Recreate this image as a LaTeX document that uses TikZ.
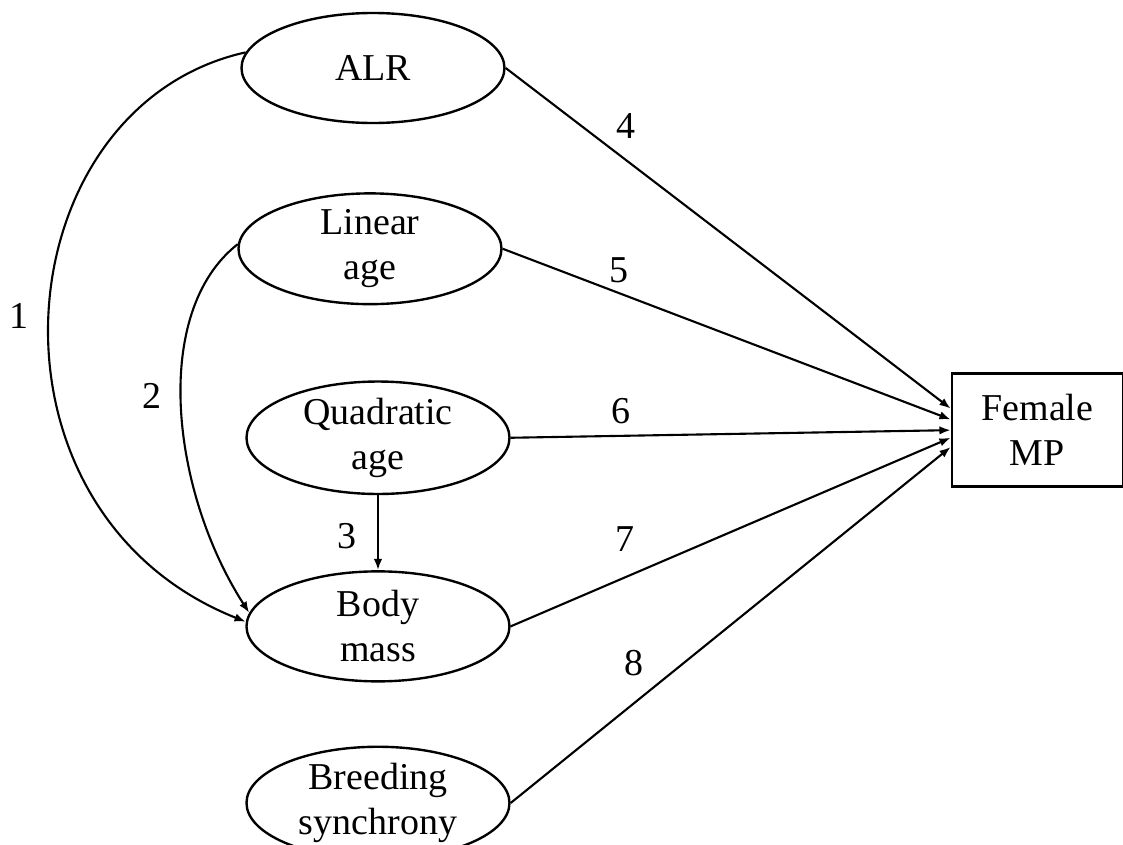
\documentclass[tikz,border=0pt]{standalone}
\usepackage{fontspec}
\setmainfont{Liberation Serif}
\usetikzlibrary{arrows.meta,positioning,shapes.geometric}

\begin{document}
\begin{tikzpicture}[node distance=1.875cm, every node/.style={font=\fontsize{27}{32}\selectfont}, var/.style={draw,ellipse,line width=1.7pt,minimum width=6.575cm,minimum height=2.75cm,inner sep=0pt,align=center}, arr/.style={-{Latex[length=8pt,width=6pt]},line width=1.5pt}, num/.style={inner sep=0pt}]
\useasboundingbox (-9.325,1.7) rectangle (18.75,-19.425);
\node[var] (A) at (0,0) {ALR};
\node[var,below=1.7cm of A,xshift=-.75mm] (L) {Linear\\age};
\node[var,below=of L,xshift=2mm] (Q) {Quadratic\\age};
\node[var,below=of Q] (B) {Body\\mass};
\node[var,below=1.575cm of B] (S) {Breeding\\synchrony};
\node[draw,line width=1.7pt,minimum width=4.275cm,minimum height=2.825cm,align=center,right=11cm of Q,yshift=1.9mm] (F) {Female\\MP};
\draw[arr] (A.east)--node[num,pos=.27,above=.5cm] (n4) {4}(F.166);
\draw[arr] (L.east)--node[num,pos=.26,above=.23cm] (n5) {5}(F.173);
\draw[arr] (Q.east)--node[num,pos=.25,above=.28cm] (n6) {6}(F.180);
\draw[arr] (B.east)--node[num,pos=.26,above=.63cm] (n7) {7}(F.185);
\draw[arr] (S.east)--node[num,pos=.28,above=.65cm] (n8) {8}(F.191);
\draw[arr] (Q.south)--node[num,pos=.54,left=.51cm] (n3) {3}(B.north);
\draw[arr] (A.173) .. controls +(-6.1,-1.36) and +(-6.975,2.775) .. node[num,pos=.5,left=.5cm] (n1) {1} (B.178);
\draw[arr] (L.178) .. controls +(-2.17,-1.7) and +(-1.96,3.05) .. node[num,pos=.47,left=.46cm] (n2) {2} (B.174);
\end{tikzpicture}
\end{document}
